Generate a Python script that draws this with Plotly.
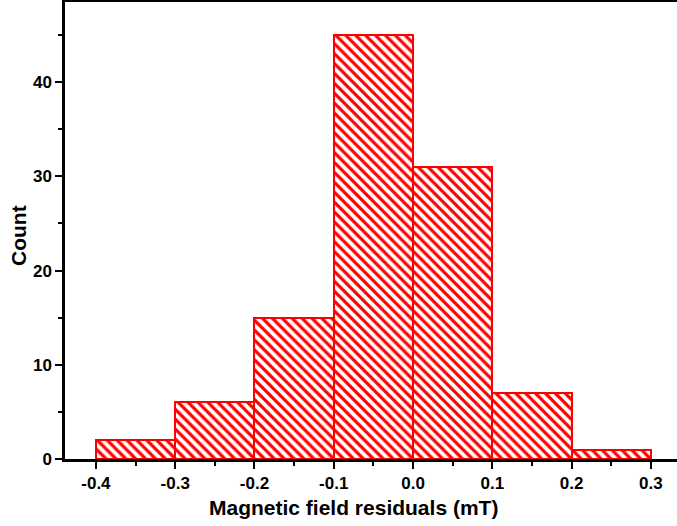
import plotly.graph_objects as go

bin_left = [-0.4, -0.3, -0.2, -0.1, 0.0, 0.1, 0.2]
counts = [2, 6, 15, 45, 31, 7, 1]
bin_width = 0.1
x_ticks = [-0.4, -0.3, -0.2, -0.1, 0.0, 0.1, 0.2, 0.3]
x_tick_text = ["-0.4", "-0.3", "-0.2", "-0.1", "0.0", "0.1", "0.2", "0.3"]
y_ticks = [0, 10, 20, 30, 40]
x_title = "Magnetic field residuals (mT)"
y_title = "Count"

centers = [b + bin_width / 2 for b in bin_left]

fig = go.Figure(go.Bar(
    x=centers, y=counts, width=bin_width,
    marker=dict(
        color="white",
        line=dict(color="#ff0000", width=2),
        pattern=dict(shape="\\", fgcolor="#ff0000", bgcolor="white", fgopacity=1,
                     size=7, solidity=0.45),
    ),
))

font_b = dict(family="Arial, Liberation Sans", color="black")
fig.update_layout(
    width=677, height=526,
    margin=dict(l=65, r=0, t=2, b=67),
    plot_bgcolor="white", paper_bgcolor="white",
    showlegend=False, bargap=0,
    font=font_b,
    annotations=[
        dict(text="<b>%s</b>" % x_title, xref="paper", yref="paper",
             x=(353 - 65) / 612, y=-(508 - 459) / 457, xanchor="center", yanchor="middle",
             showarrow=False, font=dict(size=21, **font_b)),
        dict(text="<b>%s</b>" % y_title, xref="paper", yref="paper",
             x=-(65 - 18) / 612, y=(459 - 236) / 457, xanchor="center", yanchor="middle",
             textangle=-90, showarrow=False, font=dict(size=21, **font_b)),
    ],
)
fig.update_xaxes(
    range=[-0.439, 0.333],
    tickvals=x_ticks, ticktext=["<b>%s</b>" % t for t in x_tick_text],
    tickfont=dict(size=17, **font_b),
    ticks="outside", ticklen=7, tickwidth=2, tickcolor="black",
    minor=dict(dtick=0.05, tick0=0, ticks="outside", ticklen=4, tickwidth=2, tickcolor="black"),
    showline=True, linewidth=2.5, linecolor="black", mirror=True,
    showgrid=False, zeroline=False,
)
fig.update_yaxes(
    range=[0, 48.5],
    tickvals=y_ticks, ticktext=["<b>%d</b>" % t for t in y_ticks],
    tickfont=dict(size=17, **font_b),
    ticks="outside", ticklen=7, tickwidth=2, tickcolor="black",
    minor=dict(dtick=5, tick0=0, ticks="outside", ticklen=4, tickwidth=2, tickcolor="black"),
    showline=True, linewidth=2.5, linecolor="black", mirror=False,
    showgrid=False, zeroline=False,
)
fig.write_html("out.html")
